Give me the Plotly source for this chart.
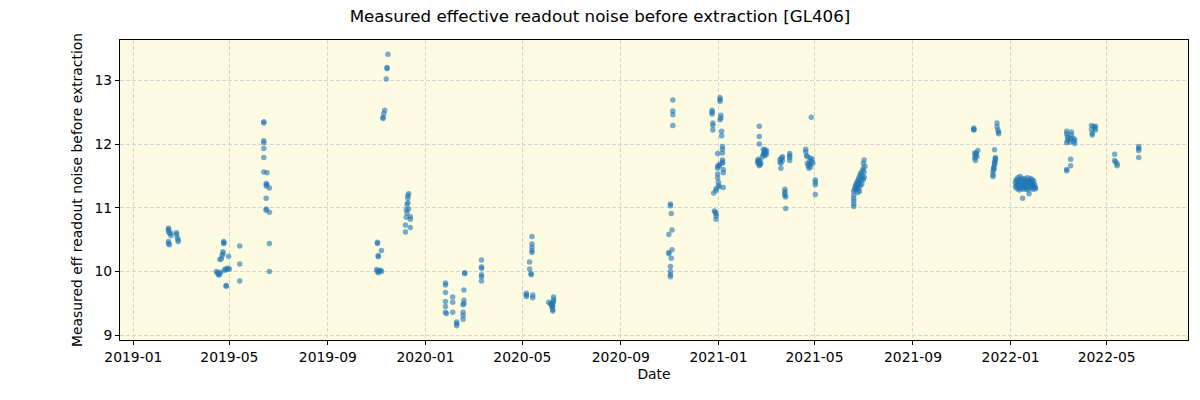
import plotly.graph_objects as go

# ---- data (date, measured effective readout noise) ----
feb2019 = [("2019-02-14",10.68),("2019-02-14",10.66),("2019-02-14",10.63),("2019-02-15",10.60),("2019-02-14",10.47),
           ("2019-02-14",10.44),("2019-02-15",10.42),("2019-02-17",10.60),("2019-02-17",10.56),("2019-02-24",10.61),
           ("2019-02-24",10.58),("2019-02-25",10.53),("2019-02-26",10.50),("2019-02-26",10.47)]
apr2019 = [("2019-04-15",10.00),("2019-04-16",9.98),("2019-04-17",9.96),("2019-04-18",9.94),("2019-04-19",9.97),
           ("2019-04-20",9.99),("2019-04-19",10.19),("2019-04-21",10.20),("2019-04-23",10.31),("2019-04-23",10.28),
           ("2019-04-24",10.44),("2019-04-24",10.47),("2019-04-24",10.45),("2019-04-22",10.25),("2019-04-25",10.02),
           ("2019-04-26",10.04),("2019-04-27",9.77),("2019-04-27",9.78),("2019-04-28",10.03),("2019-04-29",10.05),
           ("2019-04-30",10.24),("2019-05-01",10.04),("2019-05-14",10.40),("2019-05-14",10.12),("2019-05-14",9.85)]
jun2019 = [("2019-06-13",12.35),("2019-06-13",12.33),("2019-06-13",12.05),("2019-06-13",12.02),("2019-06-13",11.93),
           ("2019-06-13",11.79),("2019-06-13",11.56),("2019-06-17",11.55),("2019-06-16",11.38),("2019-06-17",11.36),
           ("2019-06-16",11.34),("2019-06-20",11.31),("2019-06-16",11.15),("2019-06-16",10.98),("2019-06-16",10.96),
           ("2019-06-20",10.93),("2019-06-20",10.44),("2019-06-20",10.00)]
nov2019 = [("2019-11-02",10.46),("2019-11-02",10.44),("2019-11-03",10.25),("2019-11-03",10.23),("2019-11-07",10.33),
           ("2019-11-01",10.03),("2019-11-02",10.00),("2019-11-03",9.98),("2019-11-04",10.01),("2019-11-06",10.02),
           ("2019-11-07",10.00),("2019-11-09",12.40),("2019-11-09",12.42),("2019-11-10",12.48),("2019-11-11",12.53),
           ("2019-11-13",13.02),("2019-11-14",13.20),("2019-11-14",13.18),("2019-11-15",13.41)]
dec2019 = [("2019-12-11",11.22),("2019-12-10",11.19),("2019-12-10",11.15),("2019-12-10",11.08),("2019-12-09",11.05),
           ("2019-12-08",10.97),("2019-12-11",10.98),("2019-12-09",10.92),("2019-12-13",10.86),("2019-12-08",10.85),
           ("2019-12-13",10.82),("2019-12-07",10.73),("2019-12-13",10.69),("2019-12-07",10.62)]
jan2020 = [("2020-01-26",9.82),("2020-01-26",9.79),("2020-01-26",9.67),("2020-01-26",9.53),("2020-01-26",9.45),
           ("2020-01-26",9.36),("2020-01-27",9.34),("2020-02-04",9.60),("2020-02-04",9.52),("2020-02-04",9.36),
           ("2020-02-09",9.21),("2020-02-09",9.18),("2020-02-09",9.15),("2020-02-17",9.48),("2020-02-18",9.50),
           ("2020-02-17",9.36),("2020-02-17",9.31),("2020-02-17",9.25),("2020-02-18",9.55),("2020-02-18",9.71),
           ("2020-02-19",9.98),("2020-02-19",9.97),("2020-03-11",10.18),("2020-03-11",10.07),("2020-03-11",10.05),
           ("2020-03-11",9.95),("2020-03-11",9.92),("2020-03-11",9.85)]
may2020 = [("2020-05-06",9.66),("2020-05-06",9.63),("2020-05-06",9.61),("2020-05-14",9.63),("2020-05-14",9.59),
           ("2020-05-10",10.15),("2020-05-10",10.04),("2020-05-12",9.97),("2020-05-12",9.95),("2020-05-13",10.55),
           ("2020-05-13",10.43),("2020-05-13",10.38),("2020-05-13",10.33),("2020-05-13",10.30),
           ("2020-06-03",9.52),("2020-06-05",9.49),("2020-06-07",9.47),("2020-06-07",9.44),("2020-06-08",9.40),
           ("2020-06-08",9.38),("2020-06-09",9.60),("2020-06-09",9.56),("2020-06-08",9.51),("2020-06-09",9.53),
           ("2020-06-07",9.49),("2020-06-08",9.46)]
nov2020 = [("2020-11-05",12.69),("2020-11-05",12.52),("2020-11-05",12.46),("2020-11-05",12.29),("2020-11-02",11.06),
           ("2020-11-02",11.03),("2020-11-03",10.91),("2020-11-04",10.65),("2020-10-31",10.58),("2020-11-04",10.34),
           ("2020-10-31",10.30),("2020-10-31",10.28),("2020-11-03",10.21),("2020-11-02",10.08),("2020-11-02",10.00),
           ("2020-11-02",9.95),("2020-11-02",9.92)]
jan2021 = [("2020-12-24",12.53),("2020-12-24",12.50),("2020-12-24",12.47),("2020-12-25",12.33),("2020-12-25",12.29),
           ("2020-12-25",12.22),("2020-12-26",11.23),("2020-12-29",11.30),("2020-12-29",11.27),("2020-12-27",10.95),
           ("2020-12-28",10.93),("2020-12-29",10.91),("2020-12-29",10.87),("2020-12-29",10.82),("2020-12-31",11.85),
           ("2020-12-31",11.65),("2020-12-31",11.62),("2020-12-31",11.53),("2020-12-31",11.47),("2021-01-01",11.35),
           ("2021-01-01",11.40),("2021-01-02",11.33),("2021-01-03",12.73),("2021-01-03",12.70),("2021-01-03",12.67),
           ("2021-01-04",12.45),("2021-01-04",12.41),("2021-01-03",12.38),("2021-01-05",12.20),("2021-01-05",12.13),
           ("2021-01-06",11.96),("2021-01-06",11.92),("2021-01-06",11.86),("2021-01-06",11.75),("2021-01-06",11.72),
           ("2021-01-06",11.70),("2021-01-07",11.60),("2021-01-07",11.55),("2021-01-07",11.32),("2021-01-02",11.66),
           ("2021-01-02",11.68)]
spring2021 = [("2021-02-21",12.28),("2021-02-21",12.12),("2021-02-21",12.00),
              ("2021-02-19",11.74),("2021-02-19",11.71),("2021-02-20",11.69),("2021-02-20",11.76),("2021-02-21",11.72),
              ("2021-02-22",11.68),("2021-02-22",11.74),("2021-02-23",11.70),("2021-02-21",11.66),
              ("2021-02-25",11.80),("2021-02-26",11.84),("2021-02-27",11.88),("2021-02-28",11.91),("2021-02-27",11.85),
              ("2021-02-28",11.82),("2021-03-01",11.87),("2021-03-02",11.90),("2021-03-02",11.84),("2021-02-26",11.92),
              ("2021-03-19",11.76),("2021-03-19",11.72),("2021-03-20",11.70),("2021-03-21",11.78),("2021-03-22",11.80),
              ("2021-03-22",11.74),("2021-03-20",11.62),
              ("2021-03-25",11.29),("2021-03-25",11.25),("2021-03-25",11.22),("2021-03-25",11.19),("2021-03-26",11.17),
              ("2021-03-26",10.99),
              ("2021-03-31",11.85),("2021-03-31",11.82),("2021-03-31",11.79),("2021-03-31",11.74),
              ("2021-04-20",11.92),("2021-04-20",11.88),("2021-04-21",11.82),("2021-04-22",11.80),("2021-04-22",11.70),
              ("2021-04-23",11.66),("2021-04-24",11.62),("2021-04-25",11.68),("2021-04-25",11.73),("2021-04-26",11.78),
              ("2021-04-26",11.64),("2021-04-27",11.72),("2021-04-28",11.76),("2021-04-29",11.70),("2021-04-27",12.42),
              ("2021-05-02",11.44),("2021-05-02",11.40),("2021-05-02",11.36),("2021-05-02",11.21)]
jun2021 = [("2021-06-19",11.02),("2021-06-19",11.06),("2021-06-19",11.11),("2021-06-19",11.15),("2021-06-19",11.20),
           ("2021-06-19",11.26),("2021-06-20",11.30),("2021-06-21",11.34),("2021-06-21",11.28),("2021-06-22",11.37),
           ("2021-06-22",11.30),("2021-06-23",11.40),("2021-06-23",11.33),("2021-06-24",11.42),("2021-06-24",11.36),
           ("2021-06-25",11.30),("2021-06-25",11.45),("2021-06-26",11.38),("2021-06-26",11.48),("2021-06-27",11.34),
           ("2021-06-27",11.52),("2021-06-28",11.42),("2021-06-28",11.55),("2021-06-29",11.46),("2021-06-29",11.37),
           ("2021-06-30",11.58),("2021-06-30",11.50),("2021-07-01",11.62),("2021-07-01",11.44),("2021-07-02",11.56),
           ("2021-07-02",11.48),("2021-07-01",11.70),("2021-07-02",11.75),("2021-07-03",11.65),("2021-06-26",11.26),
           ("2021-06-24",11.24)]
nov2021 = [("2021-11-16",12.25),("2021-11-16",12.22),("2021-11-16",12.23),
           ("2021-11-17",11.86),("2021-11-18",11.82),("2021-11-17",11.78),("2021-11-18",11.74),("2021-11-19",11.84),
           ("2021-11-20",11.80),("2021-11-21",11.90),("2021-11-19",11.86),
           ("2021-12-15",12.33),("2021-12-15",12.27),("2021-12-16",12.22),("2021-12-17",12.19),("2021-12-17",12.16),
           ("2021-12-12",11.91),("2021-12-13",11.79),("2021-12-13",11.75),("2021-12-12",11.72),("2021-12-12",11.68),
           ("2021-12-11",11.64),("2021-12-11",11.60),("2021-12-10",11.57),("2021-12-10",11.52),("2021-12-10",11.49),
           ("2021-12-12",11.70),("2021-12-13",11.77),("2021-12-11",11.62)]
jan2022 = [("2022-01-07",11.40),("2022-01-07",11.33),("2022-01-08",11.44),("2022-01-08",11.36),("2022-01-09",11.30),
           ("2022-01-09",11.42),("2022-01-10",11.47),("2022-01-10",11.35),("2022-01-11",11.39),("2022-01-11",11.31),
           ("2022-01-12",11.44),("2022-01-12",11.28),("2022-01-13",11.37),("2022-01-13",11.49),("2022-01-14",11.33),
           ("2022-01-14",11.41),("2022-01-15",11.45),("2022-01-15",11.30),("2022-01-16",11.38),("2022-01-16",11.15),
           ("2022-01-17",11.42),("2022-01-17",11.34),("2022-01-18",11.29),("2022-01-18",11.46),("2022-01-19",11.36),
           ("2022-01-19",11.40),("2022-01-20",11.32),("2022-01-20",11.44),("2022-01-21",11.38),("2022-01-21",11.30),
           ("2022-01-22",11.47),("2022-01-22",11.35),("2022-01-23",11.41),("2022-01-23",11.28),("2022-01-24",11.22),
           ("2022-01-24",11.39),("2022-01-25",11.43),("2022-01-25",11.33),("2022-01-26",11.37),("2022-01-26",11.46),
           ("2022-01-27",11.31),("2022-01-27",11.40),("2022-01-28",11.35),("2022-01-28",11.44),("2022-01-29",11.29),
           ("2022-01-29",11.38),("2022-01-30",11.42),("2022-01-30",11.33),("2022-01-31",11.36),("2022-02-01",11.32),
           ("2022-02-01",11.30)]
spring2022 = [("2022-03-12",11.60),("2022-03-12",11.58),("2022-03-17",11.76),("2022-03-17",11.66),
              ("2022-03-12",12.20),("2022-03-12",12.16),("2022-03-13",12.12),("2022-03-13",12.06),("2022-03-12",12.02),
              ("2022-03-14",12.10),("2022-03-16",12.03),("2022-03-17",12.08),("2022-03-18",12.19),("2022-03-18",12.14),
              ("2022-03-20",12.09),("2022-03-21",12.04),("2022-03-22",12.07),("2022-03-22",12.01),
              ("2022-04-12",12.29),("2022-04-12",12.23),("2022-04-13",12.17),("2022-04-13",12.14),("2022-04-15",12.27),
              ("2022-04-16",12.25),("2022-04-17",12.28),("2022-04-17",12.22),
              ("2022-05-11",11.84),("2022-05-11",11.74),("2022-05-12",11.72),("2022-05-14",11.69),("2022-05-14",11.66),
              ("2022-06-10",11.96),("2022-06-10",11.93),("2022-06-10",11.90),("2022-06-10",11.79)]

campaigns = [feb2019, apr2019, jun2019, nov2019, dec2019, jan2020, may2020, nov2020,
             jan2021, spring2021, jun2021, nov2021, jan2022, spring2022]

x_tick_vals = ["2019-01-01", "2019-05-01", "2019-09-01", "2020-01-01", "2020-05-01", "2020-09-01",
               "2021-01-01", "2021-05-01", "2021-09-01", "2022-01-01", "2022-05-01"]
x_tick_text = ["2019-01", "2019-05", "2019-09", "2020-01", "2020-05", "2020-09",
               "2021-01", "2021-05", "2021-09", "2022-01", "2022-05"]
y_tick_vals = [9, 10, 11, 12, 13]

dates = [d for c in campaigns for d, _ in c]
noise = [v for c in campaigns for _, v in c]

FONT = "DejaVu Sans"
fig = go.Figure()
fig.add_trace(go.Scatter(
    x=dates, y=noise, mode="markers",
    marker=dict(size=5.5, color="#1f77b4", opacity=0.6, line=dict(width=0)),
    showlegend=False, hoverinfo="x+y",
))

axis_common = dict(
    showline=True, linecolor="black", linewidth=1, mirror=True,
    ticks="outside", ticklen=4, tickcolor="black", tickwidth=1,
    showgrid=True, gridcolor="#d6d6d6", griddash="4px,2px", gridwidth=1,
    zeroline=False, tickfont=dict(family=FONT, size=13.9, color="black"),
)

fig.update_layout(
    width=1200, height=400,
    margin=dict(l=120, r=12, t=40, b=60),
    paper_bgcolor="white", plot_bgcolor="#fdfbe2",
    font=dict(family=FONT, color="black"),
    title=dict(text="Measured effective readout noise before extraction [GL406]",
               x=0.5, xanchor="center", y=1 - 16/400, yanchor="middle", yref="container",
               font=dict(family=FONT, size=16.7, color="black")),
    xaxis=dict(type="date", range=["2018-12-15 09:00", "2022-08-10 14:00"],
               tickvals=x_tick_vals, ticktext=x_tick_text,
               title=dict(text="Date", font=dict(family=FONT, size=13.9), standoff=5),
               **axis_common),
    yaxis=dict(range=[8.926, 13.632], tickvals=y_tick_vals,
               title=dict(text="Measured eff readout noise before extraction",
                          font=dict(family=FONT, size=13.9), standoff=8),
               **axis_common),
)

fig.write_html("out.html")
